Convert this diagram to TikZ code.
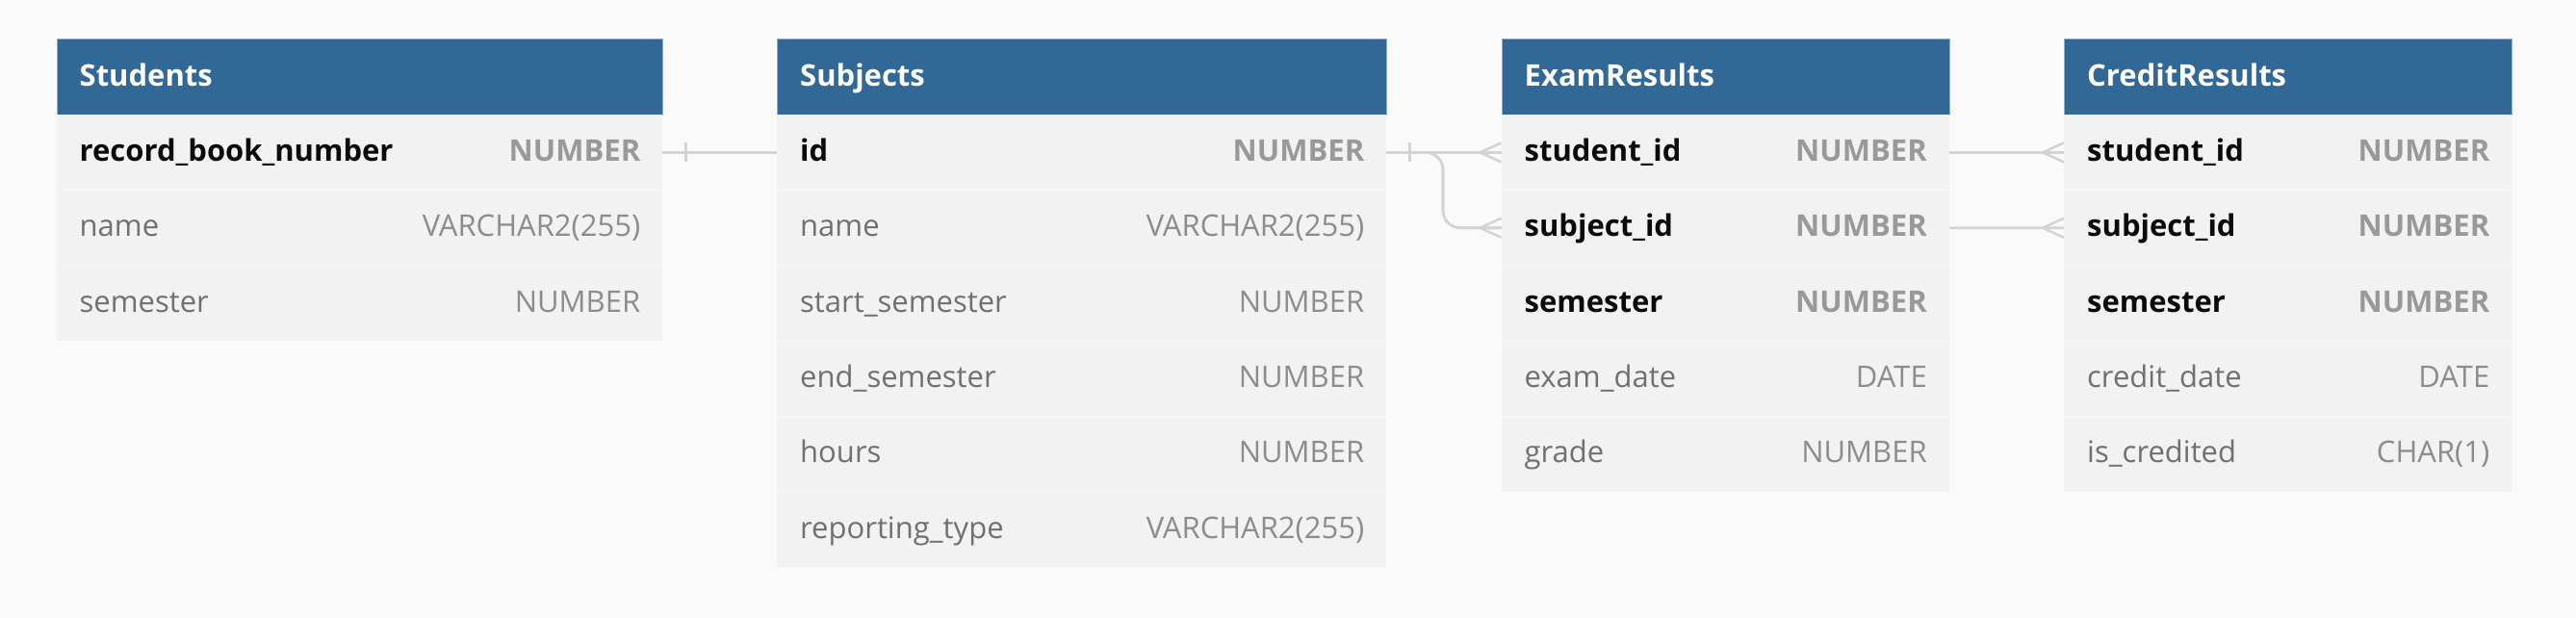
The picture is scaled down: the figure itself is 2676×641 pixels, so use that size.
\documentclass[tikz,border=0pt]{standalone}
\usepackage{fontspec}
\setmainfont{Open Sans}
\definecolor{bgcol}{HTML}{FAFAFA}
\definecolor{hdrblue}{HTML}{316896}
\definecolor{hdrline}{HTML}{8FB0CE}
\definecolor{rowfill}{HTML}{F2F2F2}
\definecolor{sepcol}{HTML}{F7F7F7}
\definecolor{keyname}{HTML}{0A0A0A}
\definecolor{keytype}{HTML}{999999}
\definecolor{plainname}{HTML}{707070}
\definecolor{plaintype}{HTML}{8C8C8C}
\definecolor{linegray}{HTML}{D4D4D4}
\pgfdeclarelayer{bg}
\pgfsetlayers{bg,main}
\newcommand{\tabfont}{\fontsize{31}{37}\selectfont}
\tikzset{
  hdr/.style={fill=hdrblue, draw=hdrline, line width=1pt, minimum height=79pt, inner sep=0pt, anchor=north west},
  hdrtxt/.style={anchor=base west, inner sep=0pt, xshift=24pt, yshift=-9.5pt, text=white, font=\tabfont\bfseries},
  rowbox/.style={fill=rowfill, draw=none, minimum height=78.35pt, inner sep=0pt, anchor=north west},
  fieldtxt/.style={anchor=base west, inner sep=0pt, xshift=24pt, yshift=-9pt},
  typetxt/.style={anchor=base east, inner sep=0pt, xshift=-23pt, yshift=-9pt},
  sepline/.style={draw=sepcol, line width=1pt},
  conn/.style={draw=linegray, line width=2.6pt},
}
\newcommand{\ertable}[5]{%
  \node[hdr, minimum width=#3pt] (#1-h) at (#2,40) {};
  \node[hdrtxt] (#1-title) at (#1-h.west) {#4};
  \foreach \k/\f/\t [count=\i] in {#5} {
    \pgfmathsetmacro{\yy}{119+(\i-1)*78.35}
    \node[rowbox, minimum width=#3pt] (#1-\i) at (#2,\yy) {};
    \ifnum\i>1\relax
      \draw[sepline] (#1-\i.north west) -- (#1-\i.north east);
    \fi
    \ifnum\k=1\relax
      \node[fieldtxt, text=keyname, font=\tabfont\bfseries] (#1-\i-f) at (#1-\i.west) {\f};
      \node[typetxt, text=keytype, font=\tabfont\bfseries] (#1-\i-t) at (#1-\i.east) {\t};
    \else
      \node[fieldtxt, text=plainname, font=\tabfont] (#1-\i-f) at (#1-\i.west) {\f};
      \node[typetxt, text=plaintype, font=\tabfont] (#1-\i-t) at (#1-\i.east) {\t};
    \fi
  }%
}
\newcommand{\crowfoot}[1]{%
  \draw[conn] ([xshift=-22pt]#1) -- ([yshift=10pt]#1);
  \draw[conn] ([xshift=-22pt]#1) -- ([yshift=-10pt]#1);
}
\newcommand{\onetick}[1]{%
  \draw[conn] ([xshift=24pt,yshift=10pt]#1) -- ([xshift=24pt,yshift=-10pt]#1);
}
\begin{document}
\begin{tikzpicture}[x=1pt,y=-1pt]
\useasboundingbox (0,0) rectangle (2676,641);
\ertable{stu}{58.5}{629.5}{Students}{1/record\_book\_number/NUMBER,0/name/VARCHAR2(255),0/semester/NUMBER}
\ertable{sub}{807}{633}{Subjects}{1/id/NUMBER,0/name/VARCHAR2(255),0/start\_semester/NUMBER,0/end\_semester/NUMBER,0/hours/NUMBER,0/reporting\_type/VARCHAR2(255)}
\ertable{exa}{1559.5}{465}{ExamResults}{1/student\_id/NUMBER,1/subject\_id/NUMBER,1/semester/NUMBER,0/exam\_date/DATE,0/grade/NUMBER}
\ertable{cre}{2144}{465}{CreditResults}{1/student\_id/NUMBER,1/subject\_id/NUMBER,1/semester/NUMBER,0/credit\_date/DATE,0/is\_credited/CHAR(1)}
\coordinate (bendx) at (1499,0);
\begin{pgfonlayer}{bg}
  \fill[bgcol] (0,0) rectangle (2676,641);
  % Students -> ExamResults / CreditResults (student_id)
  \draw[conn] (stu-1.east) -- (exa-1.west);
  \draw[conn] (stu-1.east) -- (cre-1.west);
  % Subjects -> ExamResults / CreditResults (subject_id)
  \draw[conn, rounded corners=18pt] (sub-1.east) -- (sub-1.east -| bendx) -- (exa-2.west -| bendx) -- (exa-2.west);
  \draw[conn, rounded corners=18pt] (sub-1.east) -- (sub-1.east -| bendx) -- (cre-2.west -| bendx) -- (cre-2.west);
  \onetick{stu-1.east}
  \onetick{sub-1.east}
  \crowfoot{exa-1.west}
  \crowfoot{exa-2.west}
  \crowfoot{cre-1.west}
  \crowfoot{cre-2.west}
\end{pgfonlayer}
\end{tikzpicture}
\end{document}
